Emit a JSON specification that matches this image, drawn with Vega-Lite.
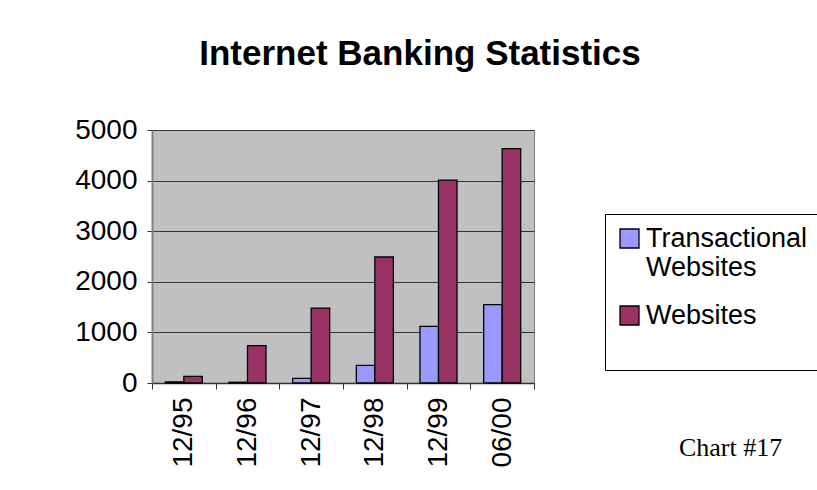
{
  "$schema": "https://vega.github.io/schema/vega-lite/v6.json",
  "autosize": "none",
  "width": 382,
  "height": 253,
  "padding": {"left": 152, "top": 130, "right": 283, "bottom": 107},
  "background": "white",
  "title": {
    "text": "Internet Banking Statistics",
    "font": "Liberation Sans",
    "fontSize": 35,
    "fontWeight": "bold",
    "color": "black",
    "anchor": "middle",
    "frame": "group",
    "baseline": "alphabetic",
    "offset": 16,
    "dx": 77
  },
  "data": {
    "values": [
      {"period": "12/95", "series": "Transactional Websites", "count": 20},
      {"period": "12/95", "series": "Websites", "count": 130},
      {"period": "12/96", "series": "Transactional Websites", "count": 15},
      {"period": "12/96", "series": "Websites", "count": 740},
      {"period": "12/97", "series": "Transactional Websites", "count": 90},
      {"period": "12/97", "series": "Websites", "count": 1480},
      {"period": "12/98", "series": "Transactional Websites", "count": 350},
      {"period": "12/98", "series": "Websites", "count": 2490},
      {"period": "12/99", "series": "Transactional Websites", "count": 1120},
      {"period": "12/99", "series": "Websites", "count": 4010},
      {"period": "06/00", "series": "Transactional Websites", "count": 1550},
      {"period": "06/00", "series": "Websites", "count": 4630}
    ]
  },
  "mark": {"type": "bar", "stroke": "black", "strokeWidth": 1.3},
  "encoding": {
    "x": {
      "field": "period",
      "type": "nominal",
      "sort": ["12/95", "12/96", "12/97", "12/98", "12/99", "06/00"],
      "scale": {"paddingInner": 0, "paddingOuter": 0},
      "axis": {
        "title": "Chart #17",
        "titleFont": "Liberation Serif",
        "titleFontSize": 26,
        "titleFontWeight": "normal",
        "titleColor": "black",
        "titleX": 578,
        "titleY": 72,
        "titleAlign": "center",
        "titleBaseline": "alphabetic",
        "labelAngle": -90,
        "labelAlign": "right",
        "labelBaseline": "middle",
        "labelFont": "Liberation Sans",
        "labelFontSize": 28,
        "labelColor": "black",
        "labelPadding": 8,
        "tickBand": "extent",
        "tickColor": "#333333",
        "tickSize": 6,
        "domainColor": "#333333",
        "domainWidth": 1.5
      }
    },
    "xOffset": {
      "field": "series",
      "type": "nominal",
      "scale": {"paddingInner": 0, "paddingOuter": 0.72}
    },
    "y": {
      "field": "count",
      "type": "quantitative",
      "scale": {"domain": [0, 5000]},
      "axis": {
        "title": null,
        "values": [0, 1000, 2000, 3000, 4000, 5000],
        "format": "d",
        "labelFont": "Liberation Sans",
        "labelFontSize": 28,
        "labelColor": "black",
        "labelPadding": 10,
        "tickColor": "#333333",
        "tickSize": 5,
        "domainColor": "#808080",
        "domainWidth": 2,
        "grid": true,
        "gridColor": "#333333",
        "gridWidth": 1.2
      }
    },
    "color": {
      "field": "series",
      "type": "nominal",
      "scale": {
        "domain": ["Transactional Websites", "Websites"],
        "range": ["#9999FF", "#993366"]
      },
      "legend": {
        "title": " ",
        "titleOrient": "bottom",
        "titleFontSize": 26,
        "titlePadding": 4,
        "orient": "none",
        "legendX": 453,
        "legendY": 84,
        "padding": 11,
        "strokeColor": "black",
        "fillColor": "white",
        "symbolType": "square",
        "symbolSize": 361,
        "symbolStrokeColor": "black",
        "symbolStrokeWidth": 1.3,
        "symbolOpacity": 1,
        "labelFont": "Liberation Sans",
        "labelFontSize": 27,
        "labelColor": "black",
        "labelOffset": 3,
        "labelLimit": 300,
        "rowPadding": 20,
        "labelExpr": "datum.label == 'Transactional Websites' ? ['Transactional', 'Websites'] : datum.label"
      }
    }
  },
  "config": {
    "view": {"fill": "#C0C0C0", "stroke": "#808080", "strokeWidth": 1}
  }
}
